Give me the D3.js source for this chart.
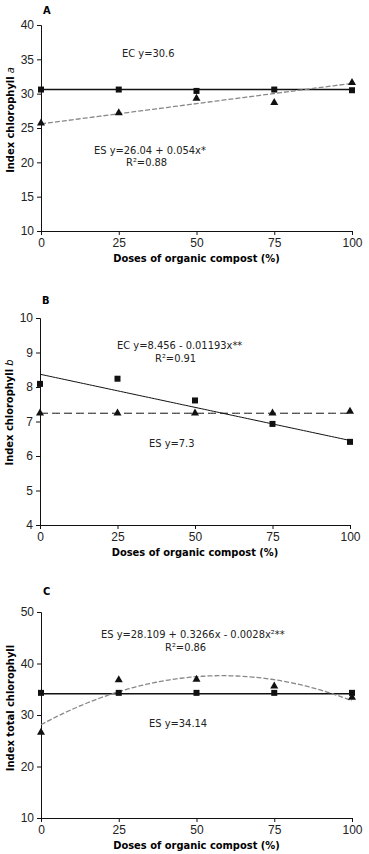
<!DOCTYPE html>
<html lang="en">
<head>
<meta charset="UTF-8">
<title>Chlorophyll index</title>
<style>
  body { margin: 0; background: #fff; }
  svg { display: block; font-family: "Liberation Sans Narrow", "Arial Narrow", "DejaVu Sans Condensed", sans-serif; }
  .tick text { fill: #222; }
</style>
</head>
<body>
<div id="chart"></div>
<script src="https://d3js.org/d3.v7.min.js"></script>
<script>
// doses of organic compost (%)
const doses = [0, 25, 50, 75, 100];

// panel A - chlorophyll a
const ecA = [30.6, 30.6, 30.4, 30.6, 30.5];
const esA = [25.7, 27.2, 29.3, 28.7, 31.6];
const ticksA = [10, 15, 20, 25, 30, 35, 40];

// panel B - chlorophyll b
const ecB = [8.09, 8.24, 7.61, 6.93, 6.41];
const esB = [7.24, 7.24, 7.24, 7.24, 7.29];
const ticksB = [4, 5, 6, 7, 8, 9, 10];

// panel C - total chlorophyll
const ecC = [34.3, 34.3, 34.3, 34.3, 34.3];
const esC = [26.6, 36.8, 36.9, 35.6, 33.4];
const ticksC = [10, 20, 30, 40, 50];

// fitted lines, coefficients as drawn (c0 + c1*x + c2*x^2)
const fitA = { solid: [30.6], dashed: [25.6, 0.059] };
const fitB = { solid: [8.37, -0.0192], dashed: [7.24] };
const fitC = { solid: [34.14], dashed: [28.109, 0.3266, -0.0028] };

const xTicks = [0, 25, 50, 75, 100];

const W = 369, H = 854;
const svg = d3.select("#chart").append("svg")
  .attr("width", W).attr("height", H);

function poly(c, x) {
  return c.reduce((s, k, i) => s + k * Math.pow(x, i), 0);
}

function drawPanel(p) {
  const g = svg.append("g").attr("transform", `translate(${p.left},${p.top})`);
  const w = p.width, h = p.height;

  const x = d3.scaleLinear().domain([0, 100]).range([0, w]);
  const y = d3.scaleLinear().domain(d3.extent(p.yTicks)).range([h, 0]);

  // axes
  const xa = g.append("g").attr("transform", `translate(0,${h})`)
    .call(d3.axisBottom(x).tickValues(xTicks).tickSize(4).tickPadding(3).tickFormat(d3.format("d")));
  const ya = g.append("g")
    .call(d3.axisLeft(y).tickValues(p.yTicks).tickSize(4).tickPadding(3).tickFormat(d3.format("d")));
  [xa, ya].forEach(a => {
    a.select(".domain").attr("stroke", "#111");
    a.selectAll(".tick line").attr("stroke", "#111");
    a.selectAll(".tick text").style("font-size", "12px");
  });

  // panel letter
  g.append("text").attr("x", 2).attr("y", p.letterY)
    .style("font-size", "11px").style("font-weight", "bold").text(p.letter);

  // axis titles
  g.append("text").attr("x", w / 2).attr("y", h + 31)
    .attr("text-anchor", "middle")
    .style("font-size", "11px").style("font-weight", "bold")
    .text("Doses of organic compost (%)");

  const yl = g.append("text")
    .attr("transform", `translate(${-27},${h / 2 + p.yLabelShift}) rotate(-90)`)
    .attr("text-anchor", "middle")
    .style("font-size", "11px").style("font-weight", "bold");
  yl.append("tspan").text(p.yLabel);
  if (p.yItalic) {
    yl.append("tspan").style("font-style", "italic").style("font-weight", "normal")
      .text(" " + p.yItalic);
  }

  // fit lines
  const xs = d3.range(0, 100.5, 1);
  const line = c => d3.line().x(d => x(d)).y(d => y(poly(c, d)))(xs);
  g.append("path").attr("d", line(p.fit.solid))
    .attr("fill", "none").attr("stroke", "#111").attr("stroke-width", p.solidWidth);
  g.append("path").attr("d", line(p.fit.dashed))
    .attr("fill", "none").attr("stroke", p.dashColor).attr("stroke-width", p.dashWidth)
    .attr("stroke-dasharray", p.dash);

  // markers
  g.append("g").selectAll("rect").data(doses)
    .join("rect")
    .attr("x", d => x(d) - 3).attr("y", (d, i) => y(p.ec[i]) - 3)
    .attr("width", 6).attr("height", 6).attr("fill", "#111");
  const tri = d3.symbol().type(d3.symbolTriangle).size(28);
  g.append("g").selectAll("path").data(doses)
    .join("path")
    .attr("transform", (d, i) => `translate(${x(d)},${y(p.es[i])})`)
    .attr("d", tri).attr("fill", "#111");

  // annotations
  p.notes.forEach(n => {
    g.append("text").attr("x", n.x).attr("y", n.y)
      .style("font-size", "11px").attr("fill", "#222")
      .text(n.t);
  });
}

drawPanel({
  letter: "A", letterY: -11, left: 41, top: 25, width: 311, height: 206,
  yTicks: ticksA, ec: ecA, es: esA, fit: fitA,
  yLabel: "Index chlorophyll", yItalic: "a", yLabelShift: -8,
  solidWidth: 1.5, dashColor: "#888", dashWidth: 1.3, dash: "5,2",
  notes: [
    { x: 81, y: 32, t: "EC y=30.6" },
    { x: 53, y: 129, t: "ES y=26.04 + 0.054x*" },
    { x: 85, y: 141, t: "R²=0.88" }
  ]
});

drawPanel({
  letter: "B", letterY: -14, left: 40, top: 318, width: 310, height: 207,
  yTicks: ticksB, ec: ecB, es: esB, fit: fitB,
  yLabel: "Index chlorophyll", yItalic: "b", yLabelShift: -9,
  solidWidth: 1, dashColor: "#111", dashWidth: 1, dash: "8,4",
  notes: [
    { x: 77, y: 31, t: "EC y=8.456 - 0.01193x**" },
    { x: 115, y: 44, t: "R²=0.91" },
    { x: 109, y: 129, t: "ES y=7.3" }
  ]
});

drawPanel({
  letter: "C", letterY: -17, left: 41, top: 612, width: 311, height: 206,
  yTicks: ticksC, ec: ecC, es: esC, fit: fitC,
  yLabel: "Index total chlorophyll", yItalic: null, yLabelShift: -7,
  solidWidth: 1.5, dashColor: "#888", dashWidth: 1.3, dash: "5,2",
  notes: [
    { x: 60, y: 26, t: "ES y=28.109 + 0.3266x - 0.0028x²**" },
    { x: 124, y: 39, t: "R²=0.86" },
    { x: 108, y: 115, t: "ES y=34.14" }
  ]
});
</script>
</body>
</html>
